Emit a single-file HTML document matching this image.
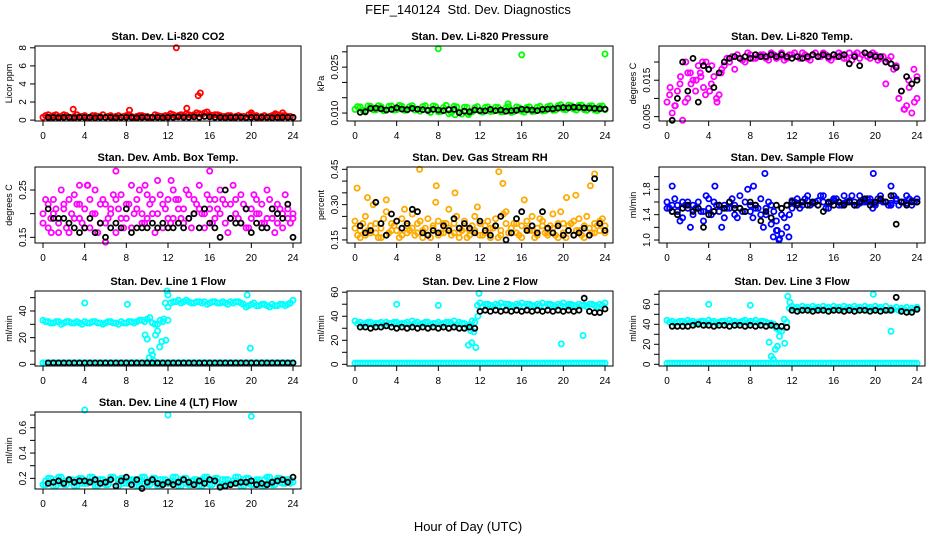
<!DOCTYPE html>
<html><head><meta charset="utf-8"><style>
html,body{margin:0;padding:0;background:#fff;}
svg{display:block;font-family:"Liberation Sans",sans-serif;}
</style></head><body>
<svg id="chart" width="936" height="540" viewBox="0 0 936 540">
<rect width="936" height="540" fill="#fff"/>
<text x="468" y="14" text-anchor="middle" font-size="13">FEF_140124&#160; Std. Dev. Diagnostics</text>
<text x="468" y="531" text-anchor="middle" font-size="13">Hour of Day (UTC)</text>
</svg>
<script>
const hours=[0,0.5,1,1.5,2,2.5,3,3.5,4,4.5,5,5.5,6,6.5,7,7.5,8,8.5,9,9.5,10,10.5,11,11.5,12,12.5,13,13.5,14,14.5,15,15.5,16,16.5,17,17.5,18,18.5,19,19.5,20,20.5,21,21.5,22,22.5,23,23.5,24];
const hoursB=[0.25,0.75,1.25,1.75,2.25,2.75,3.25,3.75,4.25,4.75,5.25,5.75,6.25,6.75,7.25,7.75,8.25,8.75,9.25,9.75,10.25,10.75,11.25,11.75,12.25,12.75,13.25,13.75,14.25,14.75,15.25,15.75,16.25,16.75,17.25,17.75,18.25,18.75,19.25,19.75,20.25,20.75,21.25,21.75,22.25,22.75,23.25,23.75];
const blackHours=[0.5,1,1.5,2,2.5,3,3.5,4,4.5,5,5.5,6,6.5,7,7.5,8,8.5,9,9.5,10,10.5,11,11.5,12,12.5,13,13.5,14,14.5,15,15.5,16,16.5,17,17.5,18,18.5,19,19.5,20,20.5,21,21.5,22,22.5,23,23.5,24];
const xTicks=[0,4,8,12,16,20,24];

// Panel 1 CO2
const co2Color=[0.3,0.6,0.5,0.4,0.6,0.3,0.4,0.4,0.5,0.3,0.5,0.4,0.3,0.5,0.4,0.3,0.5,0.4,0.4,0.5,0.4,0.3,0.5,0.4,0.5,0.6,0.5,0.5,0.6,0.6,0.7,0.8,0.6,0.6,0.5,0.4,0.5,0.4,0.4,0.3,0.6,0.5,0.4,0.3,0.5,0.6,0.5,0.4,0.3];
const co2ColorB=[0.5,0.3,0.6,0.4,0.5,0.3,0.6,0.4,0.3,0.5,0.4,0.6,0.4,0.3,0.5,0.4,0.6,0.3,0.5,0.4,0.3,0.6,0.4,0.5,0.7,0.4,0.6,0.7,0.5,0.8,0.6,0.9,0.5,0.6,0.4,0.5,0.3,0.5,0.4,0.6,0.4,0.3,0.5,0.4,0.6,0.3,0.5,0.4];
const co2OutHours=[2.9,8.3,12.8,13.8,14.9,15.1,20,22.3,23];
const co2OutVals=[1.2,1.1,8.0,1.3,2.7,3.0,0.8,0.7,0.8];
const co2Black=[0.3,0.3,0.25,0.3,0.3,0.25,0.3,0.3,0.3,0.25,0.3,0.3,0.3,0.25,0.3,0.3,0.3,0.25,0.3,0.3,0.3,0.3,0.25,0.3,0.3,0.35,0.3,0.3,0.35,0.3,0.4,0.35,0.3,0.3,0.25,0.3,0.3,0.3,0.25,0.3,0.3,0.3,0.3,0.25,0.3,0.3,0.3,0.3];
// Panel 2 Pressure
const presColor=[0.0112,0.0120,0.0108,0.0122,0.0110,0.0121,0.0109,0.0123,0.0111,0.0122,0.0110,0.0124,0.0112,0.0121,0.0107,0.0123,0.0104,0.0118,0.0098,0.0122,0.0103,0.0119,0.0100,0.0117,0.0106,0.0118,0.0105,0.0119,0.0104,0.0117,0.0102,0.0120,0.0106,0.0118,0.0105,0.0119,0.0107,0.0121,0.0109,0.0124,0.0112,0.0126,0.0113,0.0125,0.0111,0.0123,0.0110,0.0122,0.0111];
const presColorB=[0.0121,0.0109,0.0123,0.0111,0.0124,0.0108,0.0122,0.0110,0.0125,0.0109,0.0121,0.0110,0.0106,0.0124,0.0102,0.0121,0.0105,0.0125,0.0101,0.0120,0.0097,0.0118,0.0104,0.0121,0.0103,0.0120,0.0106,0.0118,0.0104,0.0121,0.0105,0.0117,0.0103,0.0120,0.0106,0.0122,0.0108,0.0123,0.0110,0.0127,0.0111,0.0124,0.0110,0.0126,0.0109,0.0124,0.0108,0.0123];
const presOutHours=[8,16,24,14.7,9.6,10.9];
const presOutVals=[0.0310,0.0290,0.0293,0.0130,0.0095,0.0095];
const presBlack=[0.0102,0.0104,0.0115,0.0116,0.0114,0.0110,0.0112,0.0117,0.0113,0.0111,0.0115,0.0113,0.0111,0.0109,0.0112,0.0110,0.0108,0.0111,0.0112,0.0101,0.0106,0.0104,0.0110,0.0108,0.0107,0.0112,0.0108,0.0110,0.0106,0.0108,0.0109,0.0113,0.0111,0.0110,0.0108,0.0112,0.0113,0.0114,0.0116,0.0118,0.0117,0.0119,0.0118,0.0117,0.0116,0.0115,0.0114,0.0113];
// Panel 3 Li-820 Temp
const tempColor=[0.009,0.006,0.012,0.004,0.010,0.015,0.019,0.013,0.018,0.016,0.011,0.019,0.020,0.018,0.021,0.020,0.022,0.021,0.022,0.021,0.0225,0.021,0.0225,0.021,0.022,0.0215,0.0225,0.021,0.022,0.0215,0.0225,0.021,0.022,0.0225,0.021,0.0225,0.022,0.021,0.0225,0.021,0.022,0.021,0.020,0.0215,0.019,0.012,0.008,0.006,0.010];
const tempColorB=[0.011,0.008,0.014,0.009,0.017,0.012,0.016,0.020,0.014,0.010,0.018,0.021,0.0215,0.022,0.0205,0.0225,0.021,0.0215,0.022,0.0205,0.022,0.0215,0.0205,0.022,0.0225,0.021,0.022,0.0205,0.0225,0.0215,0.022,0.0205,0.0215,0.022,0.021,0.0205,0.0225,0.022,0.0215,0.0225,0.0205,0.0215,0.0205,0.018,0.010,0.007,0.013,0.009];
const tempOutHours=[0.3,0.8,1.3,1.8,2.3,3.2,3.7,4.3,4.8,5.2,23.2,23.7,24,22.8,21,2.0,2.8,3.4,4.1];
const tempOutVals=[0.013,0.008,0.016,0.020,0.014,0.017,0.011,0.019,0.009,0.017,0.015,0.018,0.016,0.007,0.014,0.017,0.015,0.020,0.012];
const tempBlack=[0.004,0.010,0.020,0.012,0.021,0.009,0.019,0.018,0.013,0.017,0.020,0.021,0.0215,0.021,0.0215,0.021,0.022,0.0215,0.0215,0.022,0.0215,0.022,0.0215,0.021,0.0215,0.021,0.0215,0.022,0.0215,0.022,0.0215,0.022,0.0215,0.022,0.0195,0.0215,0.019,0.0225,0.022,0.0215,0.0215,0.020,0.0195,0.0185,0.012,0.016,0.014,0.015];
// Panel 4 Amb box temp
const ambColor=[0.20,0.17,0.23,0.18,0.22,0.16,0.24,0.19,0.21,0.17,0.25,0.18,0.22,0.20,0.16,0.24,0.19,0.26,0.21,0.18,0.24,0.20,0.27,0.22,0.19,0.25,0.21,0.18,0.24,0.20,0.26,0.17,0.23,0.19,0.25,0.18,0.22,0.20,0.24,0.17,0.21,0.23,0.18,0.25,0.19,0.22,0.17,0.21,0.19];
const ambColorB=[0.23,0.19,0.21,0.25,0.17,0.20,0.22,0.18,0.26,0.20,0.16,0.23,0.19,0.24,0.21,0.17,0.22,0.20,0.25,0.18,0.22,0.16,0.24,0.21,0.18,0.23,0.19,0.25,0.17,0.22,0.20,0.24,0.18,0.21,0.23,0.16,0.26,0.19,0.22,0.17,0.24,0.20,0.18,0.23,0.16,0.21,0.24,0.18];
const ambColorC=[0.18,0.22,0.20,0.16,0.21,0.23,0.19,0.22,0.17,0.23,0.20,0.22,0.18,0.21,0.23,0.19,0.22,0.17,0.23,0.20,0.19,0.23,0.20,0.17,0.23,0.19,0.23,0.21,0.19,0.23,0.21,0.20,0.21,0.23,0.20,0.22,0.19,0.23,0.18,0.21,0.19,0.20,0.22,0.19,0.21,0.18,0.20,0.19,0.20];
const ambOutHours=[6.0,7.0,16.0,3.5,4.3,9.8,12.3,0.8];
const ambOutVals=[0.14,0.29,0.29,0.26,0.26,0.26,0.27,0.16];
const ambBlack=[0.21,0.19,0.19,0.19,0.18,0.17,0.16,0.17,0.19,0.16,0.18,0.15,0.17,0.18,0.17,0.21,0.16,0.17,0.17,0.17,0.18,0.17,0.18,0.17,0.17,0.18,0.17,0.19,0.20,0.17,0.21,0.18,0.17,0.15,0.25,0.19,0.18,0.18,0.21,0.16,0.18,0.17,0.17,0.21,0.20,0.19,0.22,0.15];
// Panel 5 Gas stream RH
const rhColor=[0.20,0.16,0.25,0.18,0.22,0.16,0.27,0.19,0.23,0.17,0.21,0.26,0.18,0.16,0.24,0.20,0.17,0.22,0.28,0.18,0.16,0.23,0.19,0.25,0.17,0.21,0.16,0.24,0.19,0.27,0.18,0.22,0.16,0.20,0.25,0.17,0.21,0.18,0.26,0.16,0.22,0.19,0.17,0.24,0.16,0.20,0.18,0.23,0.21];
const rhColorB=[0.17,0.22,0.19,0.30,0.16,0.24,0.18,0.21,0.16,0.28,0.19,0.17,0.23,0.20,0.16,0.31,0.18,0.22,0.17,0.25,0.19,0.16,0.21,0.29,0.17,0.23,0.20,0.16,0.26,0.18,0.22,0.17,0.32,0.19,0.16,0.24,0.18,0.21,0.17,0.27,0.16,0.22,0.19,0.17,0.25,0.18,0.21,0.24];
const rhColorC=[0.23,0.19,0.17,0.21,0.18,0.20,0.17,0.22,0.19,0.24,0.18,0.20,0.22,0.19,0.17,0.21,0.23,0.18,0.20,0.22,0.18,0.20,0.17,0.19,0.22,0.18,0.20,0.21,0.17,0.22,0.20,0.18,0.21,0.23,0.19,0.20,0.23,0.17,0.20,0.22,0.18,0.21,0.23,0.19,0.21,0.17,0.22,0.19,0.18];
const rhOutHours=[0.2,6.2,7.8,9.6,13.8,14.2,20.3,21.2,22.6,23.0,1.2,3.0];
const rhOutVals=[0.37,0.45,0.38,0.35,0.44,0.39,0.33,0.34,0.38,0.43,0.33,0.32];
const rhBlack=[0.21,0.18,0.19,0.31,0.22,0.17,0.26,0.23,0.20,0.22,0.28,0.27,0.18,0.17,0.19,0.18,0.21,0.19,0.24,0.20,0.22,0.20,0.18,0.23,0.19,0.17,0.21,0.25,0.15,0.18,0.24,0.27,0.19,0.21,0.18,0.27,0.20,0.18,0.21,0.17,0.19,0.17,0.18,0.20,0.17,0.41,0.22,0.19];
// Panel 6 Sample flow
const flowColor=[1.6,1.45,1.55,1.35,1.6,1.4,1.5,1.3,1.65,1.45,1.55,1.35,1.6,1.4,1.7,1.45,1.55,1.5,1.65,1.4,1.55,1.3,1.1,1.2,1.5,1.65,1.55,1.7,1.6,1.55,1.7,1.5,1.65,1.55,1.7,1.6,1.55,1.7,1.6,1.65,1.55,1.7,1.6,1.55,1.65,1.6,1.7,1.55,1.65];
const flowColorB=[1.5,1.65,1.3,1.55,1.2,1.5,1.45,1.7,1.4,1.55,1.2,1.5,1.65,1.35,1.45,1.8,1.35,1.5,1.2,1.6,1.45,1.0,1.35,1.4,1.6,1.5,1.65,1.55,1.6,1.7,1.5,1.6,1.65,1.55,1.6,1.7,1.55,1.6,1.65,1.5,1.65,1.6,1.55,1.7,1.55,1.6,1.65,1.6];
const flowColorC=[1.5,1.55,1.45,1.6,1.5,1.55,1.6,1.45,1.5,1.6,1.45,1.55,1.5,1.55,1.5,1.6,1.45,1.55,1.4,1.5,1.25,1.15,1.4,1.55,1.62,1.58,1.6,1.62,1.58,1.62,1.6,1.58,1.62,1.6,1.58,1.62,1.6,1.58,1.62,1.6,1.58,1.62,1.6,1.58,1.62,1.6,1.58,1.62,1.6];
const flowOutHours=[0.5,4.6,8.3,9.4,19.8,21.5,11.7,10.2,10.8,10.6];
const flowOutVals=[1.85,1.85,1.85,2.05,2.05,1.85,1.05,1.05,1.02,1.15];
const flowBlack=[1.45,1.4,1.5,1.55,1.45,1.5,1.2,1.4,1.45,1.55,1.5,1.6,1.5,1.5,1.45,1.6,1.55,1.3,1.45,1.35,1.55,1.5,1.55,1.6,1.55,1.6,1.55,1.6,1.55,1.45,1.6,1.55,1.6,1.55,1.6,1.55,1.6,1.65,1.55,1.6,1.65,1.6,1.7,1.25,1.6,1.55,1.6,1.6];
// Panel 7 Line 1 flow
const l1Color=[33,32,31,32,31,32,31,31,32,31,32,31,31,32,31,32,31,32,32,33,34,31,30,32,33,47,48,47,47,46,47,47,46,47,46,46,47,47,46,43,45,44,45,44,45,44,45,45,48];
const l1ColorB=[32,31,32,30,32,31,32,30,31,32,31,30,32,31,30,31,32,31,33,32,35,30,33,46,46,47,46,48,46,47,46,45,47,46,47,45,46,47,45,44,46,44,45,43,44,45,44,46];
const zeroColor=[1,1,1,1,1,1,1,1,1,1,1,1,1,1,1,1,1,1,1,1,1,1,1,1,1,1,1,1,1,1,1,1,1,1,1,1,1,1,1,1,1,1,1,1,1,1,1,1,1];
const l1OutHours=[4,8.1,10.0,10.2,10.4,10.6,10.8,11.0,11.2,11.4,11.6,11.8,12,19.6,19.9,9.8,10.5,11.9,12.0];
const l1OutVals=[46,45,19,5,10,3,22,25,13,17,34,18,52,52,12,22,7,55,43];
const l1Black=[1,1,1,1,1,1,1,1,1,1,1,1,1,1,1,1,1,1,1,1,1,1,1,1,1,1,1,1,1,1,1,1,1,1,1,1,1,1,1,1,1,1,1,1,1,1,1,1];
// Panel 8 Line 2 flow
const l2Color=[36,35,34,35,34,35,35,34,35,34,35,36,35,34,35,34,35,34,35,36,35,34,33,35,51,50,49,50,51,50,49,50,51,50,49,50,51,50,49,50,51,50,49,50,49,50,49,50,51];
const l2ColorB=[34,33,35,33,34,33,34,35,33,34,33,34,33,35,33,34,33,35,34,33,34,32,36,49,48,50,48,49,48,50,48,49,48,50,48,49,48,50,48,49,48,50,48,49,48,50,48,49];
const l2OutHours=[4,8,10.9,11.2,11.4,11.6,11.8,11.9,19.8,21.9,20.5,11.1];
const l2OutVals=[50,49,16,18,27,14,40,59,17,24,48,28];
const l2Black=[31,31,30,31,31,32,31,30,31,30,31,30,31,30,31,30,31,30,31,30,30,31,30,44,45,44,45,44,45,44,45,44,45,44,45,44,45,44,45,44,45,44,45,55,44,43,43,46];
// Panel 9 Line 3 flow
const l3Color=[44,43,42,43,44,43,42,43,44,43,42,43,44,43,42,44,43,44,43,42,41,36,38,42,58,57,58,57,58,57,58,57,58,57,58,57,58,57,58,57,58,57,58,56,57,56,57,56,57];
const l3ColorB=[42,41,43,41,42,41,43,41,42,41,43,41,42,41,43,41,42,41,43,41,40,34,45,56,56,55,56,55,56,55,56,55,56,55,56,55,56,55,56,55,56,55,54,55,54,55,54,55];
const l3OutHours=[4,8,9.8,10.0,10.2,10.4,10.6,10.8,11.0,11.3,11.6,19.8,21.5,11.8];
const l3OutVals=[60,59,22,8,5,15,18,28,33,21,68,70,33,62];
const l3Black=[38,38,38,38,39,40,39,39,38,39,39,38,39,39,38,39,38,39,38,39,38,38,37,54,53,54,54,53,54,54,53,54,54,53,54,53,54,54,53,54,53,54,54,67,53,52,52,55];
// Panel 10 Line 4 flow
const l4Color=[0.15,0.20,0.14,0.21,0.15,0.19,0.14,0.20,0.16,0.21,0.14,0.19,0.15,0.21,0.14,0.20,0.16,0.19,0.14,0.21,0.15,0.20,0.14,0.19,0.16,0.21,0.14,0.20,0.15,0.19,0.14,0.21,0.15,0.20,0.14,0.19,0.16,0.21,0.14,0.20,0.15,0.19,0.14,0.21,0.15,0.20,0.16,0.19,0.17];
const l4ColorB=[0.18,0.17,0.19,0.16,0.18,0.17,0.19,0.16,0.18,0.17,0.19,0.16,0.18,0.17,0.19,0.16,0.18,0.17,0.19,0.16,0.18,0.17,0.19,0.16,0.18,0.17,0.19,0.16,0.18,0.17,0.19,0.16,0.18,0.17,0.19,0.16,0.18,0.17,0.19,0.16,0.18,0.17,0.19,0.16,0.18,0.17,0.19,0.16];
const l4OutHours=[4,12,20];
const l4OutVals=[0.74,0.70,0.69];
const l4Black=[0.16,0.17,0.18,0.16,0.19,0.17,0.18,0.18,0.17,0.19,0.16,0.17,0.19,0.14,0.18,0.21,0.15,0.19,0.12,0.17,0.19,0.16,0.15,0.17,0.15,0.17,0.19,0.17,0.15,0.18,0.16,0.19,0.18,0.13,0.14,0.15,0.16,0.17,0.17,0.18,0.15,0.16,0.15,0.17,0.18,0.19,0.17,0.21];

const NS='http://www.w3.org/2000/svg';
const svg=document.getElementById('chart');
function mk(tag,attrs,parent){const e=document.createElementNS(NS,tag);for(const k in attrs)e.setAttribute(k,attrs[k]);(parent||svg).appendChild(e);return e;}

const panels=[
 {key:'co2',title:'Stan. Dev. Li-820 CO2',ylab:'Licor ppm',col:0,row:0,ylim:[-0.1,8.2],ticks:[0,2,4,6,8],labels:[0,2,4,6,8],dec:0,color:'#ff0000',series:[[hours,co2Color],[hoursB,co2ColorB],[co2OutHours,co2OutVals]],black:co2Black},
 {key:'pressure',title:'Stan. Dev. Li-820 Pressure',ylab:'kPa',col:1,row:0,ylim:[0.0074,0.0319],ticks:[0.010,0.015,0.020,0.025,0.030],labels:[0.010,0.025],dec:3,color:'#00ff00',series:[[hours,presColor],[hoursB,presColorB],[presOutHours,presOutVals]],black:presBlack},
 {key:'li820-temp',title:'Stan. Dev. Li-820 Temp.',ylab:'degrees C',col:2,row:0,ylim:[0.0038,0.0244],ticks:[0.005,0.010,0.015,0.020],labels:[0.005,0.015],dec:3,color:'#ff00ff',series:[[hours,tempColor],[hoursB,tempColorB],[tempOutHours,tempOutVals]],black:tempBlack},
 {key:'amb-temp',title:'Stan. Dev. Amb. Box Temp.',ylab:'degrees C',col:0,row:1,ylim:[0.138,0.2986],ticks:[0.15,0.20,0.25],labels:[0.15,0.25],dec:2,color:'#ff00ff',series:[[hours,ambColor],[hoursB,ambColorB],[hours,ambColorC],[ambOutHours,ambOutVals]],black:ambBlack},
 {key:'gas-rh',title:'Stan. Dev. Gas Stream RH',ylab:'percent',col:1,row:1,ylim:[0.137,0.4598],ticks:[0.15,0.20,0.25,0.30,0.35,0.40,0.45],labels:[0.15,0.30,0.45],dec:2,color:'#ffaa00',series:[[hours,rhColor],[hoursB,rhColorB],[hours,rhColorC],[rhOutHours,rhOutVals]],black:rhBlack},
 {key:'sample-flow',title:'Stan. Dev. Sample Flow',ylab:'ml/min',col:2,row:1,ylim:[0.953,2.152],ticks:[1.0,1.2,1.4,1.6,1.8,2.0],labels:[1.0,1.4,1.8],dec:1,color:'#0000ff',series:[[hours,flowColor],[hoursB,flowColorB],[hours,flowColorC],[flowOutHours,flowOutVals]],black:flowBlack},
 {key:'line1',title:'Stan. Dev. Line 1 Flow',ylab:'ml/min',col:0,row:2,ylim:[-1.3,55],ticks:[0,10,20,30,40,50],labels:[0,20,40],dec:0,color:'#00ffff',series:[[hours,l1Color],[hoursB,l1ColorB],[hours,zeroColor],[hoursB,zeroColor],[l1OutHours,l1OutVals]],black:l1Black},
 {key:'line2',title:'Stan. Dev. Line 2 Flow',ylab:'ml/min',col:1,row:2,ylim:[-1.4,61],ticks:[0,10,20,30,40,50,60],labels:[0,20,40,60],dec:0,color:'#00ffff',series:[[hours,l2Color],[hoursB,l2ColorB],[hours,zeroColor],[hoursB,zeroColor],[l2OutHours,l2OutVals]],black:l2Black},
 {key:'line3',title:'Stan. Dev. Line 3 Flow',ylab:'ml/min',col:2,row:2,ylim:[-1.7,73.3],ticks:[0,10,20,30,40,50,60,70],labels:[0,20,40,60],dec:0,color:'#00ffff',series:[[hours,l3Color],[hoursB,l3ColorB],[hours,zeroColor],[hoursB,zeroColor],[l3OutHours,l3OutVals]],black:l3Black},
 {key:'line4',title:'Stan. Dev. Line 4 (LT) Flow',ylab:'ml/min',col:0,row:3,ylim:[0.116,0.724],ticks:[0.2,0.3,0.4,0.5,0.6,0.7],labels:[0.2,0.4,0.6],dec:1,color:'#00ffff',series:[[hours,l4Color],[hoursB,l4Color],[hoursB,l4ColorB],[l4OutHours,l4OutVals]],black:l4Black}
];
const colLeft=[35,347,659], rowTop=[46,167,291,412], rowH=[75,76,75,77], W=266;

panels.forEach(p=>{
  const L=colLeft[p.col], T=rowTop[p.row], H=rowH[p.row], B=T+H;
  const g=mk('g',{});
  
  
  const xS=h=>L+8+(h/24)*(W-16);
  const yS=v=>B-(v-p.ylim[0])/(p.ylim[1]-p.ylim[0])*H;
  const t=mk('text',{x:L+W/2,y:T-6,'text-anchor':'middle','font-size':'11','font-weight':'bold'},g);
  t.textContent=p.title;
  
  
  const pts=mk('g',{fill:'none','stroke-width':'1.8'},g);
  
  
  p.series.forEach(([hs,vs])=>{
    const n=Math.min(hs.length,vs.length);
    for(let i=0;i<n;i++){
      const c=mk('circle',{cx:xS(hs[i]).toFixed(1),cy:yS(vs[i]).toFixed(1),r:'2.6',stroke:p.color},pts);
      
      
    }
  });
  const bk=mk('g',{fill:'none','stroke-width':'1.8',stroke:'#000'},g);
  
  
  const nb=Math.min(blackHours.length,p.black.length);
  for(let i=0;i<nb;i++){
    const c=mk('circle',{cx:xS(blackHours[i]).toFixed(1),cy:yS(p.black[i]).toFixed(1),r:'2.5'},bk);
    
    
  }
  const box=mk('rect',{x:L,y:T,width:W,height:H,fill:'none',stroke:'#000','stroke-width':'1'},g);
  
  
  const xa=mk('g',{stroke:'#000','stroke-width':'1'},g);
  
  
  mk('line',{x1:xS(0),x2:xS(24),y1:B,y2:B},xa);
  xTicks.forEach(h=>{
    mk('line',{x1:xS(h),x2:xS(h),y1:B,y2:B+5},xa);
    const tl=mk('text',{x:xS(h),y:B+18,'text-anchor':'middle','font-size':'10',stroke:'none',fill:'#000'},xa);
    tl.textContent=h;
    
    
  });
  const ya=mk('g',{stroke:'#000','stroke-width':'1'},g);
  
  
  mk('line',{x1:L,x2:L,y1:yS(p.ticks[0]),y2:yS(p.ticks[p.ticks.length-1])},ya);
  p.ticks.forEach(v=>{mk('line',{x1:L-5,x2:L,y1:yS(v),y2:yS(v)},ya);});
  p.labels.forEach(v=>{
    const yy=yS(v), xx=L-9;
    const tl=mk('text',{x:xx,y:yy,'text-anchor':'middle','font-size':'10',stroke:'none',fill:'#000',transform:`rotate(-90 ${xx} ${yy})`},ya);
    tl.textContent=v.toFixed(p.dec);
    
    
  });
  const yx=L-23, yy=T+H/2;
  const yt=mk('text',{x:yx,y:yy,'text-anchor':'middle','font-size':'9',transform:`rotate(-90 ${yx} ${yy})`},g);
  yt.textContent=p.ylab;
  
  
});
</script>
</body></html>
